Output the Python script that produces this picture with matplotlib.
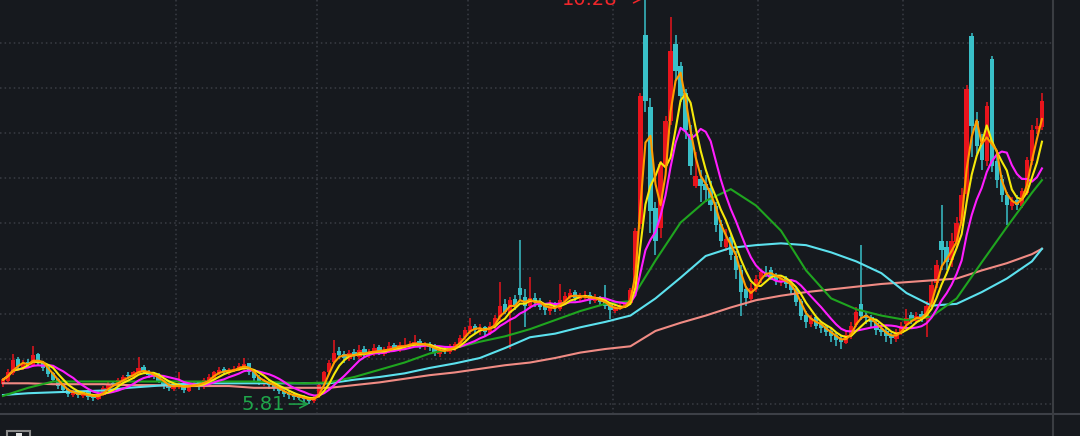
import matplotlib
matplotlib.use("Agg")
import matplotlib.pyplot as plt
from matplotlib.lines import Line2D
from matplotlib.patches import Rectangle
import numpy as np
import pandas as pd

# Daily candles (price units)
opens = [
    6.03, 6.07, 6.15, 6.31, 6.22, 6.28, 6.24, 6.36, 6.28, 6.22,
    6.15, 6.09, 6.02, 5.98, 5.91, 5.95, 5.90, 5.94, 5.90, 5.87,
    5.91, 5.98, 6.04, 6.02, 6.07, 6.13, 6.11, 6.15, 6.22, 6.17,
    6.14, 6.13, 6.07, 6.03, 5.98, 6.00, 6.04, 5.96, 6.03, 6.05,
    6.00, 6.07, 6.10, 6.15, 6.20, 6.15, 6.19, 6.21, 6.22, 6.26,
    6.17, 6.11, 6.04, 6.07, 6.03, 6.00, 5.96, 5.93, 5.92, 5.90,
    5.89, 5.88, 5.84, 5.90, 6.03, 6.17, 6.28, 6.40, 6.36, 6.31,
    6.39, 6.33, 6.42, 6.35, 6.37, 6.44, 6.37, 6.40, 6.46, 6.42,
    6.45, 6.47, 6.47, 6.51, 6.44, 6.48, 6.45, 6.37, 6.42, 6.39,
    6.43, 6.46, 6.55, 6.62, 6.68, 6.62, 6.66, 6.60, 6.69, 6.77,
    6.92, 6.82, 6.97, 7.10, 7.00, 6.90, 6.99, 6.95, 6.90, 6.84,
    6.91, 6.86, 6.95, 7.00, 7.05, 6.97, 7.00, 7.02, 6.95, 6.99,
    6.95, 6.91, 6.84, 6.88, 6.88, 6.93, 7.07, 7.80, 9.90, 9.10,
    7.98, 7.76, 8.45, 8.95, 9.80, 9.55, 9.25, 8.80, 8.22, 8.30,
    8.25, 8.20, 8.00, 7.80, 7.55, 7.66, 7.45, 7.30, 7.08, 6.97,
    7.08, 7.19, 7.30, 7.30, 7.23, 7.16, 7.21, 7.15, 7.08, 6.95,
    6.80, 6.70, 6.77, 6.70, 6.66, 6.62, 6.57, 6.53, 6.49, 6.56,
    6.69, 6.92, 6.80, 6.77, 6.71, 6.64, 6.62, 6.57, 6.53, 6.60,
    6.70, 6.80, 6.73, 6.81, 6.75, 6.92, 7.15, 7.62, 7.55, 7.40,
    7.60, 7.84, 8.14, 9.89, 8.95, 8.70, 8.50, 9.63, 8.50, 8.30,
    8.12, 8.00, 8.07, 8.00, 8.15, 8.50, 8.86, 8.88,
]
highs = [
    6.10, 6.20, 6.36, 6.33, 6.30, 6.31, 6.45, 6.38, 6.29, 6.23,
    6.16, 6.10, 6.04, 5.99, 5.97, 5.97, 5.96, 5.95, 5.92, 5.95,
    6.01, 6.05, 6.07, 6.10, 6.13, 6.16, 6.18, 6.33, 6.24, 6.19,
    6.17, 6.15, 6.08, 6.05, 6.03, 6.17, 6.06, 6.05, 6.07, 6.06,
    6.10, 6.14, 6.18, 6.22, 6.22, 6.21, 6.23, 6.26, 6.32, 6.27,
    6.18, 6.13, 6.09, 6.08, 6.05, 6.01, 5.98, 5.95, 5.94, 5.92,
    5.91, 5.89, 5.91, 6.04, 6.18, 6.30, 6.52, 6.44, 6.40, 6.41,
    6.42, 6.46, 6.45, 6.42, 6.47, 6.46, 6.44, 6.50, 6.49, 6.50,
    6.54, 6.51, 6.58, 6.53, 6.50, 6.50, 6.47, 6.43, 6.45, 6.47,
    6.50, 6.57, 6.66, 6.76, 6.70, 6.70, 6.68, 6.72, 6.80, 7.16,
    6.97, 7.00, 7.02, 7.63, 7.08, 7.22, 7.04, 6.98, 6.93, 6.96,
    6.94, 7.14, 7.05, 7.08, 7.07, 7.04, 7.06, 7.05, 7.03, 7.01,
    7.13, 6.93, 6.91, 6.93, 6.95, 7.10, 7.76, 9.25, 10.28, 9.20,
    8.05, 8.50, 9.00, 10.10, 9.90, 9.60, 9.30, 8.90, 8.60, 8.40,
    8.35, 8.28, 8.05, 7.85, 7.75, 7.70, 7.50, 7.35, 7.12, 7.15,
    7.24, 7.31, 7.34, 7.33, 7.26, 7.24, 7.23, 7.18, 7.10, 6.97,
    6.84, 6.80, 6.79, 6.73, 6.69, 6.65, 6.60, 6.58, 6.62, 6.72,
    6.88, 7.57, 6.84, 6.80, 6.74, 6.68, 6.65, 6.60, 6.64, 6.72,
    6.86, 6.83, 6.83, 6.84, 6.95, 7.18, 7.40, 8.01, 7.62, 7.70,
    7.88, 8.20, 9.34, 9.92, 9.05, 8.80, 9.15, 9.66, 8.60, 8.35,
    8.16, 8.10, 8.12, 8.20, 8.55, 8.90, 8.98, 9.25,
]
lows = [
    6.00, 6.05, 6.13, 6.20, 6.19, 6.22, 6.22, 6.24, 6.18, 6.11,
    6.05, 5.98, 5.94, 5.89, 5.89, 5.88, 5.88, 5.86, 5.84, 5.86,
    5.90, 5.96, 6.00, 6.00, 6.05, 6.09, 6.09, 6.13, 6.14, 6.10,
    6.09, 6.04, 5.98, 5.95, 5.96, 5.98, 5.93, 5.94, 6.00, 5.97,
    5.98, 6.04, 6.08, 6.13, 6.14, 6.13, 6.16, 6.18, 6.19, 6.13,
    6.07, 6.02, 6.01, 5.98, 5.96, 5.92, 5.89, 5.87, 5.86, 5.85,
    5.83, 5.81, 5.82, 5.88, 6.01, 6.14, 6.25, 6.31, 6.27, 6.29,
    6.30, 6.31, 6.33, 6.32, 6.34, 6.35, 6.34, 6.38, 6.40, 6.39,
    6.42, 6.43, 6.45, 6.42, 6.41, 6.40, 6.34, 6.33, 6.36, 6.37,
    6.40, 6.43, 6.52, 6.59, 6.60, 6.58, 6.56, 6.57, 6.64, 6.74,
    6.81, 6.42, 6.85, 6.95, 6.66, 6.86, 6.89, 6.85, 6.80, 6.80,
    6.83, 6.84, 6.92, 6.97, 6.95, 6.94, 6.96, 6.92, 6.93, 6.90,
    6.86, 6.75, 6.82, 6.85, 6.87, 6.91, 7.05, 7.75, 9.05, 7.70,
    7.46, 7.65, 8.40, 8.90, 9.40, 9.15, 8.75, 8.35, 8.20, 8.05,
    8.05, 7.95, 7.72, 7.55, 7.50, 7.40, 7.20, 6.79, 6.90, 6.95,
    7.05, 7.15, 7.22, 7.18, 7.13, 7.12, 7.10, 7.02, 6.90, 6.74,
    6.65, 6.66, 6.64, 6.60, 6.56, 6.50, 6.45, 6.42, 6.47, 6.53,
    6.66, 6.74, 6.70, 6.66, 6.58, 6.56, 6.50, 6.47, 6.50, 6.57,
    6.66, 6.70, 6.70, 6.72, 6.55, 6.88, 7.10, 7.30, 7.30, 7.33,
    7.55, 7.78, 8.08, 8.55, 8.58, 8.40, 8.45, 8.38, 8.20, 8.05,
    7.79, 7.96, 7.96, 7.98, 8.12, 8.46, 8.80, 8.84,
]
closes = [
    6.08, 6.16, 6.30, 6.23, 6.27, 6.25, 6.35, 6.27, 6.21, 6.14,
    6.08, 6.01, 5.97, 5.92, 5.94, 5.91, 5.93, 5.89, 5.88, 5.92,
    5.99, 6.02, 6.03, 6.08, 6.11, 6.12, 6.16, 6.21, 6.16, 6.13,
    6.12, 6.06, 6.02, 5.99, 6.01, 6.03, 5.97, 6.03, 6.04, 6.01,
    6.08, 6.11, 6.16, 6.19, 6.16, 6.19, 6.20, 6.23, 6.25, 6.16,
    6.10, 6.05, 6.06, 6.02, 5.99, 5.95, 5.92, 5.91, 5.89, 5.88,
    5.87, 5.84, 5.89, 6.02, 6.16, 6.27, 6.38, 6.35, 6.32, 6.38,
    6.34, 6.41, 6.36, 6.38, 6.43, 6.38, 6.41, 6.45, 6.43, 6.46,
    6.46, 6.48, 6.50, 6.45, 6.47, 6.44, 6.38, 6.41, 6.40, 6.44,
    6.47, 6.54, 6.63, 6.67, 6.63, 6.65, 6.61, 6.68, 6.76, 6.90,
    6.83, 6.96, 6.90, 7.02, 6.90, 6.98, 6.94, 6.89, 6.85, 6.90,
    6.87, 6.96, 7.01, 7.04, 6.98, 7.00, 7.01, 6.96, 6.98, 6.94,
    6.90, 6.85, 6.87, 6.89, 6.92, 7.07, 7.73, 9.22, 9.17, 7.95,
    7.62, 8.47, 8.95, 9.72, 9.50, 9.22, 8.84, 8.45, 8.34, 8.23,
    8.18, 8.01, 7.79, 7.62, 7.64, 7.46, 7.29, 7.05, 6.98, 7.09,
    7.20, 7.27, 7.29, 7.22, 7.18, 7.20, 7.14, 7.07, 6.94, 6.79,
    6.72, 6.76, 6.68, 6.65, 6.61, 6.56, 6.52, 6.50, 6.57, 6.68,
    6.83, 6.78, 6.76, 6.72, 6.63, 6.61, 6.56, 6.54, 6.61, 6.68,
    6.76, 6.74, 6.79, 6.76, 6.90, 7.13, 7.35, 7.52, 7.38, 7.62,
    7.82, 8.12, 9.30, 8.89, 8.67, 8.51, 9.11, 8.45, 8.29, 8.12,
    8.01, 8.06, 8.01, 8.17, 8.51, 8.84, 8.89, 9.17,
]

# Long moving averages, read every 5th candle (plus the last one)
ma_days = list(range(0, 206, 5)) + [207]
ma60 = [5.90, 5.99, 6.06, 6.06, 6.06, 6.06, 6.06, 6.06, 6.06, 6.06,
        6.06, 6.05, 6.04, 6.05, 6.11, 6.19, 6.27, 6.37, 6.43, 6.50,
        6.56, 6.64, 6.74, 6.84, 6.92, 6.95, 7.40, 7.82, 8.06, 8.19,
        8.01, 7.73, 7.29, 6.98, 6.86, 6.79, 6.74, 6.78, 6.98, 7.38,
        7.77, 8.15, 8.29]
ma120 = [5.91, 5.93, 5.94, 5.95, 5.96, 5.99, 6.01, 6.03, 6.04, 6.04,
         6.04, 6.04, 6.04, 6.04, 6.08, 6.11, 6.15, 6.21, 6.26, 6.32,
         6.43, 6.55, 6.59, 6.66, 6.72, 6.79, 6.98, 7.21, 7.45, 7.54,
         7.57, 7.59, 7.57, 7.49, 7.39, 7.26, 7.04, 6.90, 6.92, 7.05,
         7.20, 7.39, 7.53]
ma250 = [6.04, 6.04, 6.03, 6.03, 6.03, 6.02, 6.02, 6.01, 6.01, 6.01,
         5.99, 5.99, 5.99, 5.99, 6.02, 6.05, 6.09, 6.13, 6.16, 6.20,
         6.24, 6.27, 6.32, 6.38, 6.42, 6.45, 6.62, 6.71, 6.79, 6.88,
         6.96, 7.01, 7.05, 7.08, 7.11, 7.14, 7.16, 7.18, 7.20, 7.29,
         7.37, 7.47, 7.53]

low_label = "5.81"
high_label = "10.28"

BG = "#16191e"
UP = "#e8141c"
DOWN = "#39c0c8"
GRID = "#3a3d44"

df = pd.DataFrame({"open": opens, "high": highs, "low": lows, "close": closes})
idx = np.arange(len(df))

# Short averages follow the closes
ma_fast = df["close"].rolling(3, min_periods=1).mean()
ma_mid = df["close"].rolling(5, min_periods=1).mean()
ma_slow = df["close"].rolling(9, min_periods=1).mean()

fig = plt.figure(figsize=(10.8, 4.36), dpi=100, facecolor=BG)
ax = fig.add_axes([0, 22 / 436, 1053 / 1080, 414 / 436])
ax.set_facecolor(BG)
ax.set_xlim(-0.6, 209.2)
ax.set_ylim(5.70, 10.285)

# Dotted grid
for p in np.arange(5.81, 10.0, 0.5):
    ax.axhline(p, color=GRID, lw=1.1, ls=(0, (1, 2)), zorder=0)
for gx in [34.5, 62.5, 92.6, 121.5, 150.4, 179.3]:
    ax.axvline(gx, color=GRID, lw=1.1, ls=(0, (1, 2)), zorder=0)

# Candles
up = df["close"] >= df["open"]
colors = np.where(up, UP, DOWN)
ax.vlines(idx, df["low"], df["high"], colors=colors, lw=1.1, zorder=2)
body_lo = np.minimum(df["open"], df["close"])
body_h = np.maximum((df["close"] - df["open"]).abs(), 0.01)
ax.bar(idx, body_h, bottom=body_lo, width=0.88, color=colors, lw=0, zorder=2)

# Moving averages
ax.plot(ma_days, ma250, color="#f08b84", lw=1.5, zorder=3)
ax.plot(ma_days, ma120, color="#5ce1ee", lw=1.5, zorder=3)
ax.plot(ma_days, ma60, color="#1fa51f", lw=1.5, zorder=3)
ax.plot(idx, ma_slow, color="#ff1dff", lw=1.5, zorder=4)
ax.plot(idx, ma_mid, color="#f5e90a", lw=1.5, zorder=4)
ax.plot(idx, ma_fast, color="#ff9c00", lw=1.5, zorder=4)

# Extreme price markers
lo_i = int(df["low"].idxmin())
hi_i = int(df["high"].idxmax())
ax.annotate(low_label, xy=(lo_i, df["low"][lo_i]), xytext=(lo_i - 4.8, df["low"][lo_i]),
            ha="right", va="center", color="#1fa64a", fontsize=14,
            arrowprops=dict(arrowstyle="->", color="#1fa64a", lw=1.1, shrinkA=1, shrinkB=0))
ax.annotate(high_label, xy=(hi_i - 0.5, 10.296), xytext=(hi_i - 5.5, 10.296),
            ha="right", va="center", color="#f0262a", fontsize=14,
            annotation_clip=False,
            arrowprops=dict(arrowstyle="->", color="#f0262a", lw=1.1, shrinkA=1, shrinkB=0))

for s in ax.spines.values():
    s.set_visible(False)
ax.set_xticks([])
ax.set_yticks([])

# Panel separators and the corner button
fig.add_artist(Line2D([0, 1], [22 / 436, 22 / 436], transform=fig.transFigure,
                      color="#3d4047", lw=1.5))
fig.add_artist(Line2D([1053 / 1080, 1053 / 1080], [0, 1], transform=fig.transFigure,
                      color="#3a3d42", lw=1.5))
fig.add_artist(Rectangle((7 / 1080, -0.01), 23 / 1080, 5 / 436 + 0.01,
                         transform=fig.transFigure, fill=False,
                         edgecolor="#8a8a8a", lw=1.5))
fig.add_artist(Rectangle((16 / 1080, -0.01), 6 / 1080, 3 / 436 + 0.01,
                         transform=fig.transFigure, color="#e0e0e0", lw=0))

fig.savefig("out.png", dpi=100, facecolor=BG)
